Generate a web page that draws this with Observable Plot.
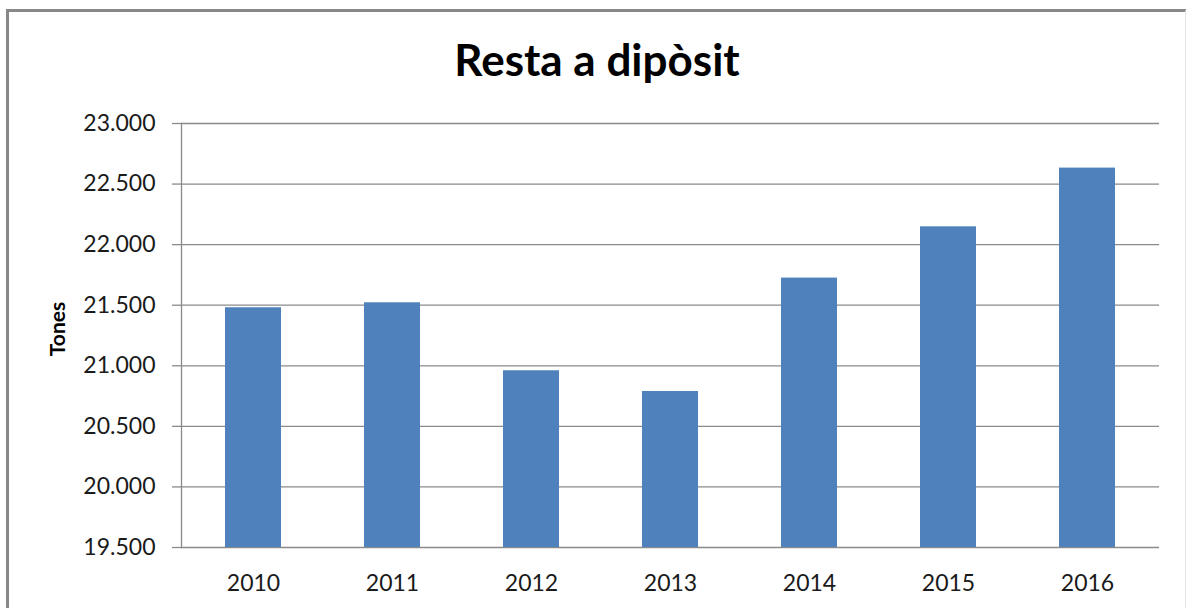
<!DOCTYPE html>
<html>
<head>
<meta charset="utf-8">
<script src="https://cdn.jsdelivr.net/npm/d3@7"></script>
<script src="https://cdn.jsdelivr.net/npm/@observablehq/plot@0.6"></script>
<style>
  html, body { margin: 0; padding: 0; background: #fff; }
  #wrap { position: relative; width: 1186px; height: 608px; overflow: hidden; font-family: Lato, "Open Sans", sans-serif; }
  #border { position: absolute; left: 6px; top: 9px; width: 1176px; height: 620px;
            border-left: 3px solid #888; border-top: 3px solid #888; border-right: 1px solid #e4e4e4; }
  #title { position: absolute; left: 0; top: 33px; width: 1194px; text-align: center;
           font: bold 44px Lato, "Open Sans", sans-serif; color: #000; line-height: 52px; }
  #ylabel { position: absolute; left: 56px; top: 329px; transform: translate(-50%, -50%) rotate(-90deg);
            font: bold 21px Lato, "Open Sans", sans-serif; color: #000; white-space: nowrap; }
  #chart { position: absolute; left: 0; top: 0; }
</style>
</head>
<body>
<div id="wrap">
  <div id="border"></div>
  <div id="chart"></div>
  <div id="title">Resta a dipòsit</div>
  <div id="ylabel"></div>
</div>
<script>
const years = ["2010", "2011", "2012", "2013", "2014", "2015", "2016"];
const tones = [21479, 21520, 20959, 20788, 21724, 22147, 22632];
const yTicks = [19500, 20000, 20500, 21000, 21500, 22000, 22500, 23000];
const yMin = 19500;
const yMax = 23000;
const yLabel = "Tones";

document.getElementById("ylabel").textContent = yLabel;

const data = years.map((y, i) => ({year: y, value: tones[i]}));
const fmt = d3.formatLocale({decimal: ",", thousands: ".", grouping: [3], currency: ["", "€"]}).format(",d");
const gridColor = "#8a8a8a";

const chart = Plot.plot({
  width: 1186,
  height: 608,
  marginLeft: 181,
  marginRight: 27,
  marginTop: 123,
  marginBottom: 61,
  style: {fontFamily: "Lato, 'Open Sans', sans-serif", background: "transparent", color: "#1a1a1a"},
  x: {type: "band", domain: years, paddingInner: 0.6, paddingOuter: 0.3, align: 0.5},
  y: {domain: [yMin, yMax]},
  marks: [
    Plot.gridY(yTicks, {stroke: gridColor, strokeOpacity: 1, strokeWidth: 1.3}),
    Plot.barY(data, {x: "year", y1: yMin, y2: "value", fill: "#4F81BD"}),
    Plot.frame({anchor: "left", stroke: gridColor, strokeWidth: 1.3}),
    Plot.axisY(yTicks, {tickSize: 9, tickPadding: 17, tickFormat: fmt, stroke: gridColor, strokeWidth: 1.3,
                        fontSize: 23, fill: "#1a1a1a", label: null}),
    Plot.axisX({tickSize: 0, tickPadding: 27, fontSize: 23, fill: "#1a1a1a", label: null})
  ]
});
document.getElementById("chart").appendChild(chart);
</script>
</body>
</html>
